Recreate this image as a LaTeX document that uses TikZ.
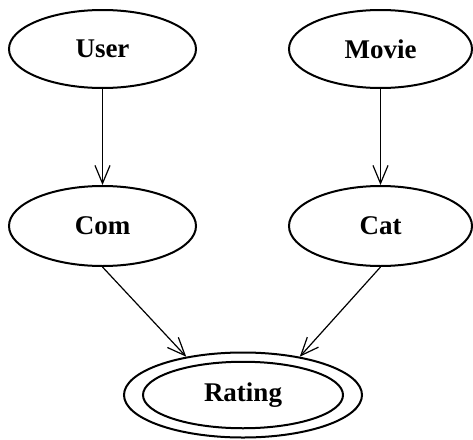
\documentclass[tikz,border=0pt]{standalone}
\usepackage{fontspec}
\setmainfont{Liberation Serif}
\usetikzlibrary{arrows.meta,shapes.geometric}
\begin{document}
\begin{tikzpicture}[x=1pt,y=-1pt,
  entity/.style={draw, ellipse, line width=2pt, inner sep=0pt,
    minimum width=187pt, minimum height=78pt,
    font=\fontsize{27}{30}\selectfont\bfseries},
  link/.style={line width=1.2pt, -{Straight Barb[length=18pt,width=15pt]}}]
\useasboundingbox (0,0) rectangle (473,439);

% entities
\node[entity] (user)  at (102.5,49)  {User};
\node[entity, minimum width=183pt] (movie) at (380.5,49) {Movie};
\node[entity, minimum height=80pt] (com)   at (102.5,226) {Com};
\node[entity, minimum width=183pt, minimum height=80pt] (cat) at (380.5,226) {Cat};

% rating: double ellipse
\node[entity, minimum width=238pt, minimum height=85pt] (rating) at (243,395) {Rating};
\node[draw, ellipse, line width=2pt, inner sep=0pt,
      minimum width=200pt, minimum height=66.5pt] (ratinginner) at (rating.center) {};

% dependencies
\draw[link] (user.south)  -- (com.north);
\draw[link] (movie.south) -- (cat.north);
\draw[link] (com.south)   -- (rating.146);
\draw[link] (cat.south)   -- (rating.34);
\end{tikzpicture}
\end{document}
